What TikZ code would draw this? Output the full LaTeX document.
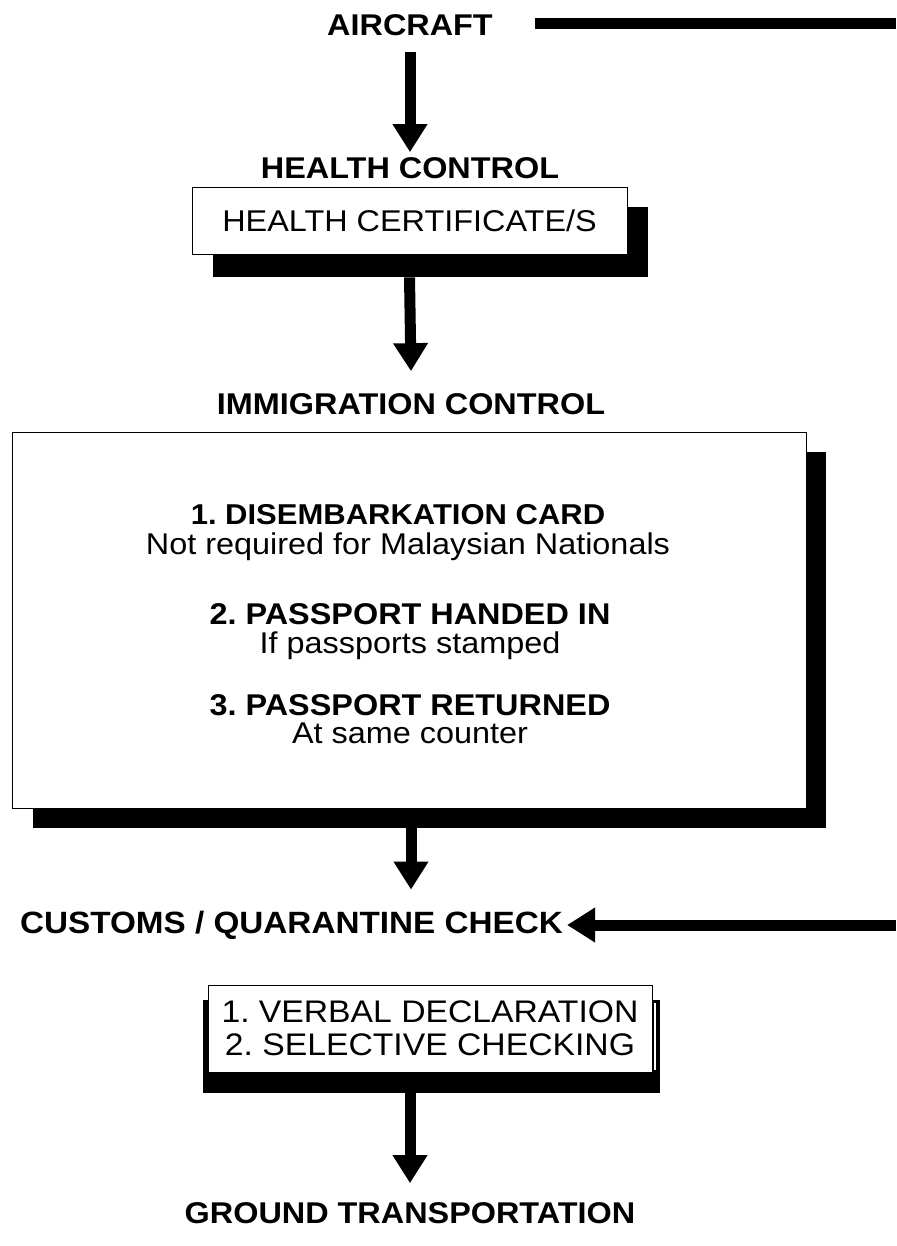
\documentclass[tikz,border=0pt]{standalone}
\usepackage{fontspec}
\setmainfont{Liberation Sans}[FakeStretch=1.08]
\usetikzlibrary{arrows.meta}
\frenchspacing
\tikzset{
  heading/.style={font=\fontsize{30}{36}\selectfont\bfseries, inner sep=0pt},
  plain/.style={font=\fontsize{30}{36}\selectfont, inner sep=0pt},
  flow/.style={line width=11pt, -{Triangle[width=33pt,length=28pt]}},
  framebox/.style={draw, line width=0.8pt, fill=white, inner sep=0pt},
}
\begin{document}
\begin{tikzpicture}[x=1pt,y=-1pt]
  \useasboundingbox (0,0) rectangle (896,1246);
  % Aircraft
  \node[heading] (aircraft) at (410,25) {AIRCRAFT};
  \coordinate (topend) at (896,24);
  \draw[line width=11pt] ([xshift=42pt]aircraft.east |- topend) -- (topend);
  % Health control
  \node[heading] (health) at (410,168) {HEALTH CONTROL};
  \fill (213,207) rectangle (648,277);
  \node[framebox, minimum width=435pt, minimum height=67pt, plain] (certificate) at (409.5,220.5) {HEALTH CERTIFICATE/S};
  \draw[flow] ([yshift=-16pt]aircraft.south) -- ([yshift=5pt]health.north);
  % Immigration control
  \node[heading] (immigration) at (411,404) {IMMIGRATION CONTROL};
  \draw[flow] ([yshift=-23pt]certificate.south) -- ([yshift=22pt]immigration.north);
  \fill (33,452) rectangle (826,828);
  \node[framebox, minimum width=794pt, minimum height=376pt] (checks) at (409,620) {};
  \node[heading, anchor=base, font=\fontsize{28.7}{34}\selectfont\bfseries] (card) at (398,524) {1. DISEMBARKATION CARD};
  \node[plain, anchor=base] (cardnote) at (408,554) {Not required for Malaysian Nationals};
  \node[heading, anchor=base] (handed) at (410,624) {2. PASSPORT HANDED IN};
  \node[plain, anchor=base] (handednote) at (410,653) {If passports stamped};
  \node[heading, anchor=base] (returned) at (410,715) {3. PASSPORT RETURNED};
  \node[plain, anchor=base] (returnednote) at (410,743) {At same counter};
  % Customs / quarantine
  \node[heading, font=\fontsize{30.8}{37}\selectfont\bfseries] (customs) at (291.5,925) {CUSTOMS / QUARANTINE CHECK};
  \draw[flow] ([yshift=-20pt]checks.south -| immigration) -- ([yshift=21pt]customs.north -| immigration);
  \coordinate (sideend) at (896,925);
  \draw[flow] (sideend) -- ([xshift=4pt]customs.east);
  \fill (203,1000) rectangle (660,1093);
  \draw[white, line width=1.5pt] (655,1003) -- (655,1070);
  \node[framebox, minimum width=444pt, minimum height=87pt, plain, font=\fontsize{31.2}{33}\selectfont, align=center] (declaration) at (430,1028.5)
    {\raisebox{-5pt}{1. VERBAL DECLARATION}\\\raisebox{-5pt}{2. SELECTIVE CHECKING}};
  % Ground transportation
  \node[heading] (ground) at (410,1213) {GROUND TRANSPORTATION};
  \draw[flow] ([yshift=-21pt]declaration.south -| ground) -- ([yshift=19pt]ground.north);
\end{tikzpicture}
\end{document}
